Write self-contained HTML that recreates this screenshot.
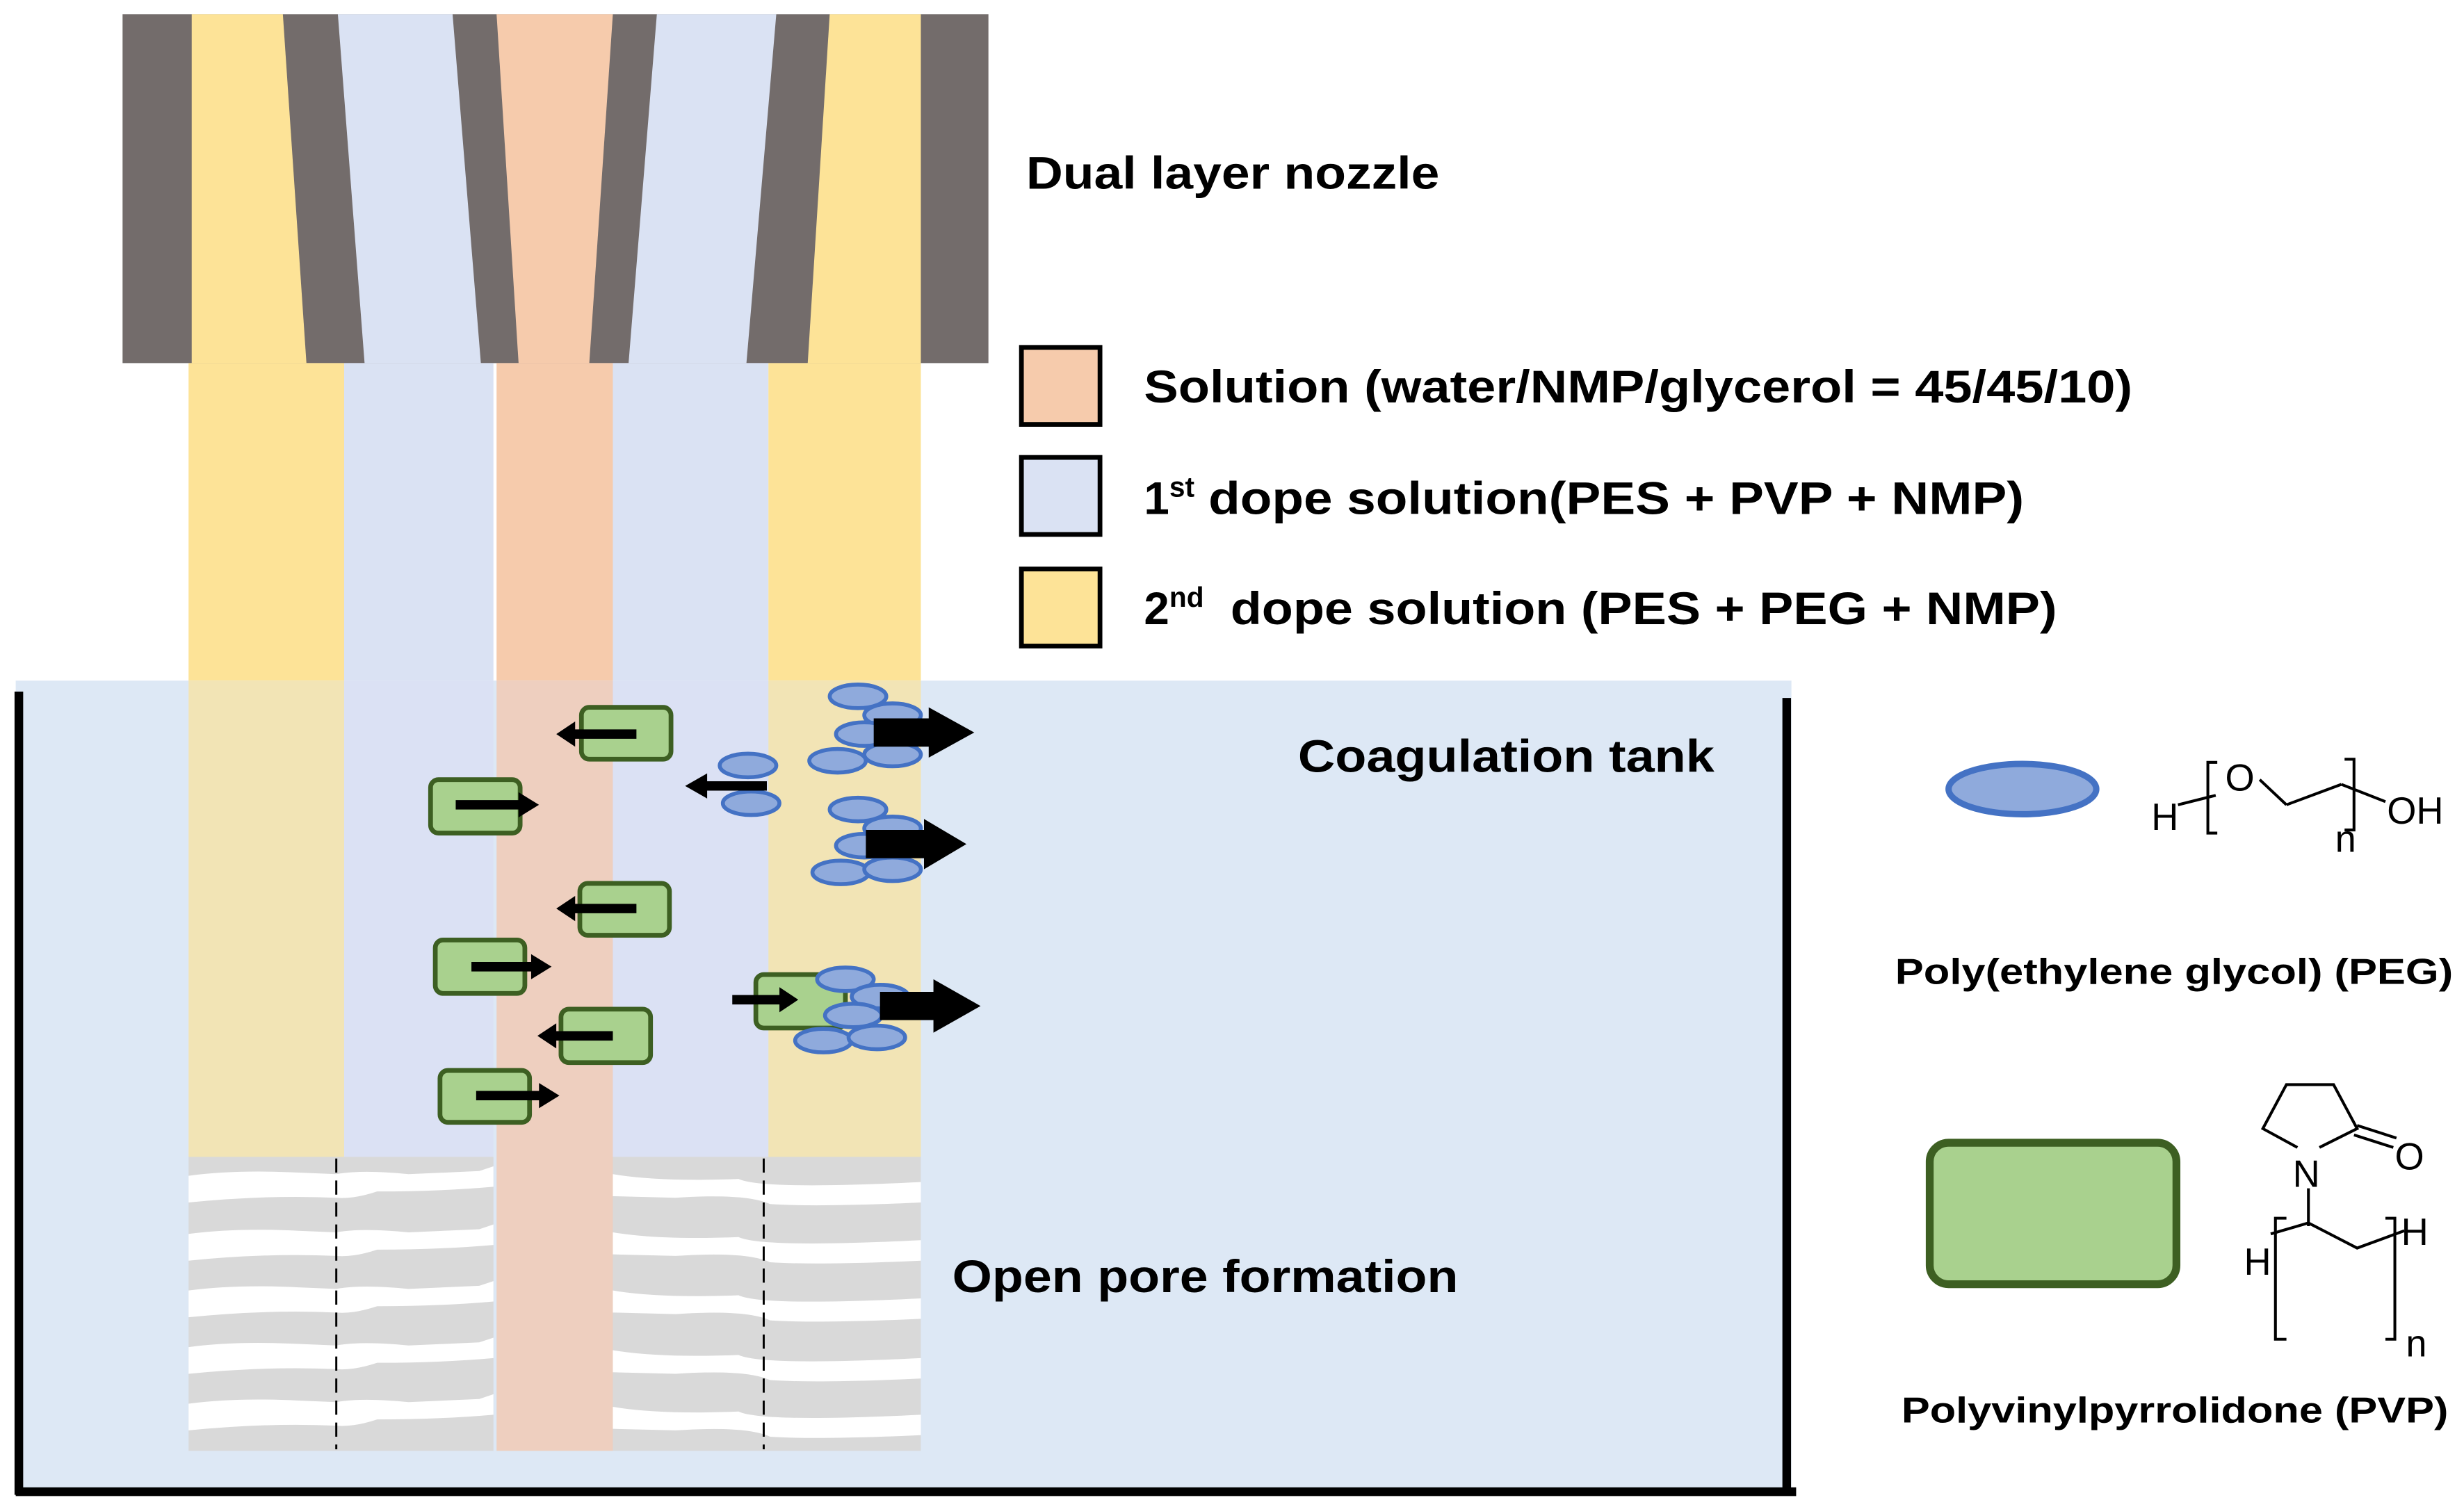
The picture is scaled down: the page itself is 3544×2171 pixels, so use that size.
<!DOCTYPE html>
<html><head><meta charset="utf-8"><style>html,body{margin:0;padding:0;background:#fff}svg{display:block}</style></head>
<body>
<svg width="3544" height="2171" viewBox="0 0 1568 960" preserveAspectRatio="none" xmlns="http://www.w3.org/2000/svg" font-family="Liberation Sans, Arial, sans-serif">
<rect width="1568" height="960" fill="#fff"/>
<rect x="78" y="9" width="551" height="222" fill="#736c6b"/>
<polygon points="122,9 180,9 195,231 122,231" fill="#fde397"/>
<polygon points="215,9 288,9 306,231 232,231" fill="#dae2f3"/>
<polygon points="316,9 390,9 375,231 330,231" fill="#f6cbac"/>
<polygon points="418,9 494,9 475,231 400,231" fill="#dae2f3"/>
<polygon points="528,9 586,9 586,231 514,231" fill="#fde397"/>
<rect x="120" y="231" width="99" height="202" fill="#fde397"/>
<rect x="219" y="231" width="95" height="202" fill="#dae2f3"/>
<rect x="316" y="231" width="74" height="202" fill="#f6cbac"/>
<rect x="390" y="231" width="99" height="202" fill="#dae2f3"/>
<rect x="489" y="231" width="97" height="202" fill="#fde397"/>
<rect x="10" y="433" width="1130" height="515" fill="#dde8f5"/>
<rect x="120" y="433" width="99" height="303" fill="#f2e4b5"/>
<rect x="219" y="433" width="95" height="303" fill="#dbe1f4"/>
<rect x="316" y="433" width="74" height="490" fill="#eecfbf"/>
<rect x="390" y="433" width="99" height="303" fill="#dbe1f4"/>
<rect x="489" y="433" width="97" height="303" fill="#f2e4b5"/>
<rect x="120" y="736" width="194" height="187" fill="#d9d9d9"/>
<rect x="390" y="736" width="196" height="187" fill="#d9d9d9"/>
<g fill="#fff">
<path d="M120,748 Q150,744 190,746 L214,747 Q230,744 260,747 L305,745 L314,742 L314,755 Q280,758 240,758 Q225,763 214,762 Q170,760 120,765 Z"/>
<path d="M120,785 Q150,781 190,783 L214,784 Q230,781 260,784 L305,782 L314,779 L314,792 Q280,795 240,795 Q225,800 214,799 Q170,797 120,802 Z"/>
<path d="M120,821 Q150,817 190,819 L214,820 Q230,817 260,820 L305,818 L314,815 L314,828 Q280,831 240,831 Q225,836 214,835 Q170,833 120,838 Z"/>
<path d="M120,857 Q150,853 190,855 L214,856 Q230,853 260,856 L305,854 L314,851 L314,864 Q280,867 240,867 Q225,872 214,871 Q170,869 120,874 Z"/>
<path d="M120,893 Q150,889 190,891 L214,892 Q230,889 260,892 L305,890 L314,887 L314,900 Q280,903 240,903 Q225,908 214,907 Q170,905 120,910 Z"/>
<path d="M390,747 Q420,752 470,750 Q485,757 586,752 L586,765 Q520,768 490,766 Q475,759 430,762 L390,761 Z"/>
<path d="M390,784 Q420,789 470,787 Q485,794 586,789 L586,802 Q520,805 490,803 Q475,796 430,799 L390,798 Z"/>
<path d="M390,821 Q420,826 470,824 Q485,831 586,826 L586,839 Q520,842 490,840 Q475,833 430,836 L390,835 Z"/>
<path d="M390,859 Q420,864 470,862 Q485,869 586,864 L586,877 Q520,880 490,878 Q475,871 430,874 L390,873 Z"/>
<path d="M390,895 Q420,900 470,898 Q485,905 586,900 L586,913 Q520,916 490,914 Q475,907 430,910 L390,909 Z"/>
</g>
<line x1="214" y1="737" x2="214" y2="922" stroke="#000" stroke-width="1.3" stroke-dasharray="9,5"/>
<line x1="486" y1="737" x2="486" y2="922" stroke="#000" stroke-width="1.3" stroke-dasharray="9,5"/>
<g stroke="#000" stroke-width="5.5" fill="none">
<line x1="12" y1="440" x2="12" y2="951"/>
<line x1="10" y1="949" x2="1143" y2="949"/>
<line x1="1137" y1="444" x2="1137" y2="951"/>
</g>
<g fill="#a9d18e" stroke="#3d5f22" stroke-width="3">
<rect x="370" y="450" width="57" height="33" rx="5"/>
<rect x="274" y="496" width="57" height="34" rx="5"/>
<rect x="369" y="562" width="57" height="33" rx="5"/>
<rect x="277" y="598" width="57" height="34" rx="5"/>
<rect x="357" y="642" width="57" height="34" rx="5"/>
<rect x="280" y="681" width="57" height="33" rx="5"/>
<rect x="481" y="620" width="57" height="34" rx="5"/>
</g>
<g fill="#000">
<polygon points="405,464 366,464 366,459 354,467 366,475 366,470 405,470"/>
<polygon points="290,509 330,509 330,504 343,512 330,520 330,515 290,515"/>
<polygon points="405,575 366,575 366,570 354,578 366,586 366,581 405,581"/>
<polygon points="300,612 338,612 338,607 351,615 338,623 338,618 300,618"/>
<polygon points="390,656 354,656 354,651 342,659 354,667 354,662 390,662"/>
<polygon points="303,694 343,694 343,689 356,697 343,705 343,700 303,700"/>
<polygon points="466,633 496,633 496,628 508,636 496,644 496,639 466,639"/>
</g>
<g fill="#8faadc" stroke="#4472c4" stroke-width="2.5">
<ellipse cx="546" cy="443" rx="18" ry="7.5"/>
<ellipse cx="568" cy="455" rx="18" ry="7.5"/>
<ellipse cx="550" cy="467" rx="18" ry="7.5"/>
<ellipse cx="533" cy="484" rx="18" ry="7.5"/>
<ellipse cx="568" cy="480" rx="18" ry="7.5"/>
<ellipse cx="476" cy="487" rx="18" ry="7.5"/>
<ellipse cx="478" cy="511" rx="18" ry="7.5"/>
<ellipse cx="546" cy="515" rx="18" ry="7.5"/>
<ellipse cx="568" cy="527" rx="18" ry="7.5"/>
<ellipse cx="550" cy="538" rx="18" ry="7.5"/>
<ellipse cx="535" cy="555" rx="18" ry="7.5"/>
<ellipse cx="568" cy="553" rx="18" ry="7.5"/>
<ellipse cx="538" cy="623" rx="18" ry="7.5"/>
<ellipse cx="560" cy="634" rx="18" ry="7.5"/>
<ellipse cx="543" cy="646" rx="18" ry="7.5"/>
<ellipse cx="524" cy="662" rx="18" ry="7.5"/>
<ellipse cx="558" cy="660" rx="18" ry="7.5"/>
</g>
<g fill="#000">
<polygon points="556,457 591,457 591,450 620,466 591,482 591,475 556,475"/>
<polygon points="551,528 588,528 588,521 615,537 588,553 588,546 551,546"/>
<polygon points="560,631 594,631 594,623 624,640 594,657 594,649 560,649"/>
<polygon points="488,497 450,497 450,492 436,500 450,508 450,503 488,503"/>
</g>
<g stroke="#000" stroke-width="3">
<rect x="650" y="221" width="50" height="49" fill="#f6cbac"/>
<rect x="650" y="291" width="50" height="49" fill="#dae2f3"/>
<rect x="650" y="362" width="50" height="49" fill="#fde397"/>
</g>
<g font-weight="bold" fill="#000" font-size="29">
<text x="653" y="120" textLength="263" lengthAdjust="spacingAndGlyphs">Dual layer nozzle</text>
<text x="728" y="256" textLength="629" lengthAdjust="spacingAndGlyphs">Solution (water/NMP/glycerol = 45/45/10)</text>
<text x="728" y="327">1<tspan font-size="18" dy="-11">st</tspan></text>
<text x="769" y="327" textLength="519" lengthAdjust="spacingAndGlyphs">dope solution(PES + PVP + NMP)</text>
<text x="728" y="397">2<tspan font-size="18" dy="-11">nd</tspan></text>
<text x="783" y="397" textLength="526" lengthAdjust="spacingAndGlyphs">dope solution (PES + PEG + NMP)</text>
<text x="826" y="491" textLength="265" lengthAdjust="spacingAndGlyphs">Coagulation tank</text>
<text x="606" y="822" textLength="322" lengthAdjust="spacingAndGlyphs">Open pore formation</text>
<text x="1206" y="626" font-size="23" textLength="355" lengthAdjust="spacingAndGlyphs">Poly(ethylene glycol) (PEG)</text>
<text x="1210" y="905" font-size="23" textLength="348" lengthAdjust="spacingAndGlyphs">Polyvinylpyrrolidone (PVP)</text>
</g>
<ellipse cx="1287" cy="502" rx="47" ry="16" fill="#8faadc" stroke="#4472c4" stroke-width="4"/>
<rect x="1228" y="727" width="157" height="90" rx="12" fill="#a9d18e" stroke="#3d5f22" stroke-width="5"/>
<g fill="none" stroke="#000" stroke-width="1.8">
<path d="M1411,485 L1405,485 L1405,530 L1411,530"/>
<path d="M1492,483 L1498,483 L1498,528 L1492,528"/>
<line x1="1386" y1="512" x2="1410" y2="506"/>
<line x1="1438" y1="496" x2="1455" y2="512"/>
<line x1="1455" y1="512" x2="1490" y2="499"/>
<line x1="1490" y1="499" x2="1518" y2="510"/>
</g>
<g font-size="24" fill="#000">
<text x="1369" y="528">H</text>
<text x="1416" y="503">O</text>
<text x="1519" y="524">OH</text>
<text x="1486" y="542">n</text>
</g>
<g fill="none" stroke="#000" stroke-width="1.8">
<polyline points="1462,730 1440,718 1455,690 1485,690 1500,718 1476,730"/>
<line x1="1500" y1="716" x2="1525" y2="724"/>
<line x1="1498" y1="722" x2="1523" y2="730"/>
<line x1="1469" y1="756" x2="1469" y2="780"/>
<path d="M1455,775 L1448,775 L1448,852 L1455,852"/>
<path d="M1518,775 L1524,775 L1524,852 L1518,852"/>
<polyline points="1445,785 1469,778 1500,794 1530,783"/>
</g>
<g font-size="24" fill="#000">
<text x="1459" y="755">N</text>
<text x="1524" y="744">O</text>
<text x="1428" y="811">H</text>
<text x="1528" y="792">H</text>
<text x="1531" y="863">n</text>
</g>
</svg>
</body></html>
